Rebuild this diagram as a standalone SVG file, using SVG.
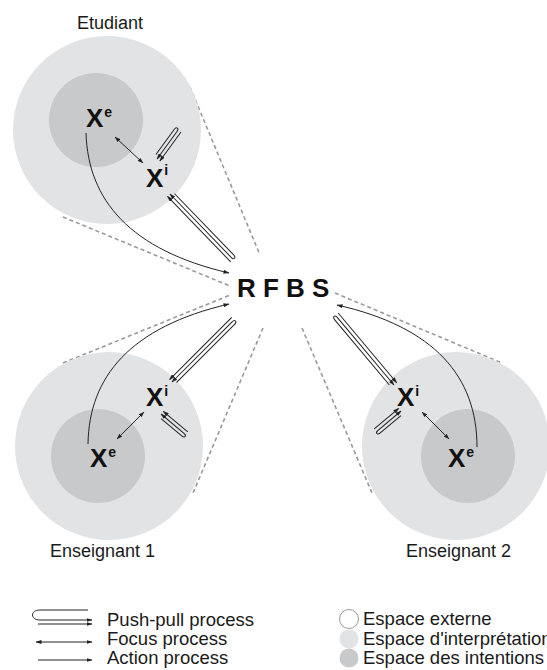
<svg xmlns="http://www.w3.org/2000/svg" width="547" height="670" viewBox="0 0 547 670">
<style>
.outer{fill:#e2e3e5}
.inner{fill:#c8c9cb}
.lbl{font-family:"Liberation Sans",Arial,sans-serif;font-size:18px;fill:#1a1a1a}
.leg{font-family:"Liberation Sans",Arial,sans-serif;font-size:18.5px;fill:#1a1a1a}
.x{font-family:"Liberation Sans",Arial,sans-serif;font-size:26px;font-weight:bold;fill:#111}
.sup{font-size:14px}
.dash{stroke:#999;stroke-width:1.6;stroke-dasharray:4,3;fill:none}
.ln{stroke:#222;stroke-width:1;fill:none}
.act{marker-end:url(#ah)}
.foc{marker-end:url(#ah);marker-start:url(#ah)}
</style>
<defs>
<marker id="ah" viewBox="0 0 6 4" refX="5.5" refY="2" markerWidth="6" markerHeight="4" markerUnits="userSpaceOnUse" orient="auto-start-reverse">
<path d="M0,0 L6,2 L0,4 Z" fill="#222"/>
</marker>
</defs>
<rect width="547" height="670" fill="#fff"/>

<g id="dashes">
<line class="dash" x1="190" y1="87" x2="260" y2="255"/>
<line class="dash" x1="63" y1="217" x2="230" y2="286"/>
<line class="dash" x1="63" y1="363" x2="230" y2="295"/>
<line class="dash" x1="263" y1="328" x2="193" y2="493"/>
<line class="dash" x1="302" y1="328" x2="372" y2="493"/>
<line class="dash" x1="335" y1="293" x2="502" y2="363"/>
</g>

<g id="etudiant">
<circle class="outer" cx="107" cy="130" r="94"/>
<circle class="inner" cx="96" cy="120" r="47"/>
<text class="lbl" x="77" y="29">Etudiant</text>
</g>
<g id="enseignant1">
<circle class="outer" cx="109" cy="446" r="94"/>
<circle class="inner" cx="98" cy="456" r="47"/>
<text class="lbl" x="50" y="557">Enseignant 1</text>
</g>
<g id="enseignant2">
<circle class="outer" cx="456" cy="446" r="94"/>
<circle class="inner" cx="468" cy="456" r="47"/>
<text class="lbl" x="406" y="557">Enseignant 2</text>
</g>

<g id="etudiant-xe"><text class="x" x="86" y="127">X<tspan class="sup" dx="1" dy="-10">e</tspan></text></g>
<g id="etudiant-xi"><text class="x" x="146" y="187">X<tspan class="sup" dx="1" dy="-12">i</tspan></text></g>
<g id="ens1-xi"><text class="x" x="146" y="406">X<tspan class="sup" dx="1" dy="-10">i</tspan></text></g>
<g id="ens1-xe"><text class="x" x="90" y="467">X<tspan class="sup" dx="1" dy="-10">e</tspan></text></g>
<g id="ens2-xi"><text class="x" x="397" y="406">X<tspan class="sup" dx="1" dy="-10">i</tspan></text></g>
<g id="ens2-xe"><text class="x" x="448" y="467">X<tspan class="sup" dx="1" dy="-10">e</tspan></text></g>

<g id="rfbs"><text class="x" x="237" y="297">R F B S</text></g>

<g id="connectors">
<path class="ln act" d="M86,133 C88,200 130,250 229,273"/>
<path class="ln act" d="M88,444 C89,377 130,327 229,304"/>
<path class="ln act" d="M477,447 C477,377 435,327 337,305"/>
<line class="ln foc" x1="115" y1="137" x2="143" y2="163"/>
<line class="ln foc" x1="117" y1="439" x2="144" y2="412"/>
<line class="ln foc" x1="422" y1="412" x2="449" y2="439"/>
<g transform="translate(170,194) rotate(46)">
<path class="ln act" d="M3,-3.5 H88 C92,-3.5 92,0 88,0 H0"/>
<path class="ln act" d="M91,3.5 H0"/>
</g>
<g transform="translate(157,159) rotate(-54)">
<path class="ln act" d="M3,-3.5 H34 C38,-3.5 38,0 34,0 H0"/>
<path class="ln act" d="M36,3.5 H0"/>
</g>
<g transform="translate(172,382) rotate(-45)">
<path class="ln act" d="M3,3.5 H85 C89,3.5 89,0 85,0 H0"/>
<path class="ln act" d="M88,-3.5 H0"/>
</g>
<g transform="translate(161,414) rotate(40)">
<path class="ln act" d="M3,3.5 H30 C34,3.5 34,0 30,0 H0"/>
<path class="ln act" d="M32,-3.5 H0"/>
</g>
<g transform="translate(394,385) rotate(-130)">
<path class="ln act" d="M3,-3.5 H88 C92,-3.5 92,0 88,0 H0"/>
<path class="ln act" d="M91,3.5 H0"/>
</g>
<g transform="translate(401,411) rotate(140)">
<path class="ln act" d="M3,-3.5 H30 C34,-3.5 34,0 30,0 H0"/>
<path class="ln act" d="M32,3.5 H0"/>
</g>
</g>

<g id="legend">
<path class="ln act" d="M88,610 H40 C30,610 30,620 40,620 H92"/>
<path class="ln act" d="M38,624 H92"/>
<line class="ln foc" x1="36" y1="642" x2="92" y2="642"/>
<line class="ln act" x1="38" y1="660" x2="92" y2="660"/>
<text class="leg" x="107" y="626">Push-pull process</text>
<text class="leg" x="107" y="645">Focus process</text>
<text class="leg" x="107" y="664">Action process</text>
<circle cx="349" cy="619" r="9.5" fill="#fff" stroke="#999" stroke-width="1"/>
<circle cx="349" cy="639" r="9.5" fill="#e2e3e5"/>
<circle cx="349" cy="658" r="9.5" fill="#c8c9cb"/>
<text class="leg" x="363" y="625">Espace externe</text>
<text class="leg" x="363" y="645">Espace d'interprétation</text>
<text class="leg" x="363" y="664">Espace des intentions</text>
</g>
</svg>
